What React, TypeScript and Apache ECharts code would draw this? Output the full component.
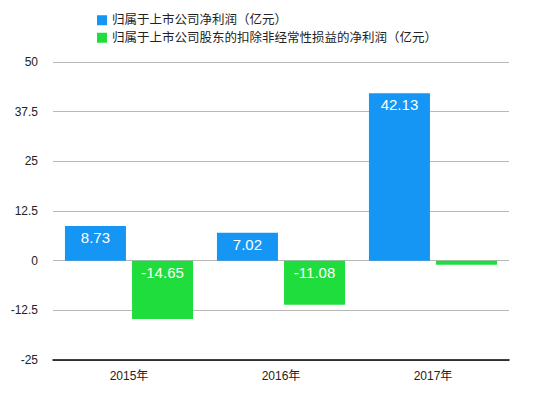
import React, { useEffect, useRef } from "react";
import * as echarts from "echarts";

const categories = ["2015年", "2016年", "2017年"];
const netProfit = [8.73, 7.02, 42.13];
const netProfitDeducted = [-14.65, -11.08, -1.0];
const seriesNames = [
  "归属于上市公司净利润（亿元）",
  "归属于上市公司股东的扣除非经常性损益的净利润（亿元）",
];
const yMin = -25;
const yMax = 50;
const yInterval = 12.5;

const BLUE = "#1596F4";
const GREEN = "#1FDD3C";

export default function App() {
  const ref = useRef<HTMLDivElement>(null);
  useEffect(() => {
    if (!ref.current) return;
    const chart = echarts.init(ref.current, undefined, { renderer: "svg" });
    const font = "'Helvetica Neue', 'Liberation Sans', 'Noto Sans CJK SC', sans-serif";
    const label = {
      show: true,
      position: "insideTop" as const,
      distance: 4,
      color: "#ffffff",
      fontSize: 15,
      fontFamily: font,
    };
    chart.setOption({
      animation: false,
      backgroundColor: "#ffffff",
      textStyle: { fontFamily: font },
      legend: {
        orient: "vertical",
        left: 92,
        top: 9,
        itemWidth: 10,
        itemHeight: 10,
        itemGap: 5,
        icon: "rect",
        textStyle: { fontSize: 12.5, color: "#222", fontFamily: font },
        data: seriesNames,
      },
      grid: { left: 53, right: 41, top: 62, bottom: 35, containLabel: false },
      xAxis: {
        type: "category",
        data: categories,
        axisLine: { onZero: false, lineStyle: { color: "#000", width: 1.5 } },
        axisTick: { show: false },
        axisLabel: { color: "#222", fontSize: 12, margin: 10, fontFamily: font },
      },
      yAxis: {
        type: "value",
        min: yMin,
        max: yMax,
        interval: yInterval,
        axisLine: { show: false },
        axisTick: { show: false },
        axisLabel: { color: "#222", fontSize: 12, margin: 15, fontFamily: font },
        splitLine: { lineStyle: { color: "#b8b8b8", width: 1 } },
      },
      series: [
        {
          name: seriesNames[0],
          type: "bar",
          data: netProfit,
          barWidth: 61,
          barGap: "10%",
          itemStyle: { color: BLUE },
          label,
        },
        {
          name: seriesNames[1],
          type: "bar",
          data: netProfitDeducted.map((v) =>
            Math.abs(v) < 3 ? { value: v, label: { show: false } } : v
          ),
          barWidth: 61,
          barGap: "10%",
          itemStyle: { color: GREEN },
          label,
        },
      ],
    });
    return () => chart.dispose();
  }, []);
  return (
    <div
      ref={ref}
      style={{ position: "fixed", left: 0, top: 0, width: 550, height: 395 }}
    />
  );
}
